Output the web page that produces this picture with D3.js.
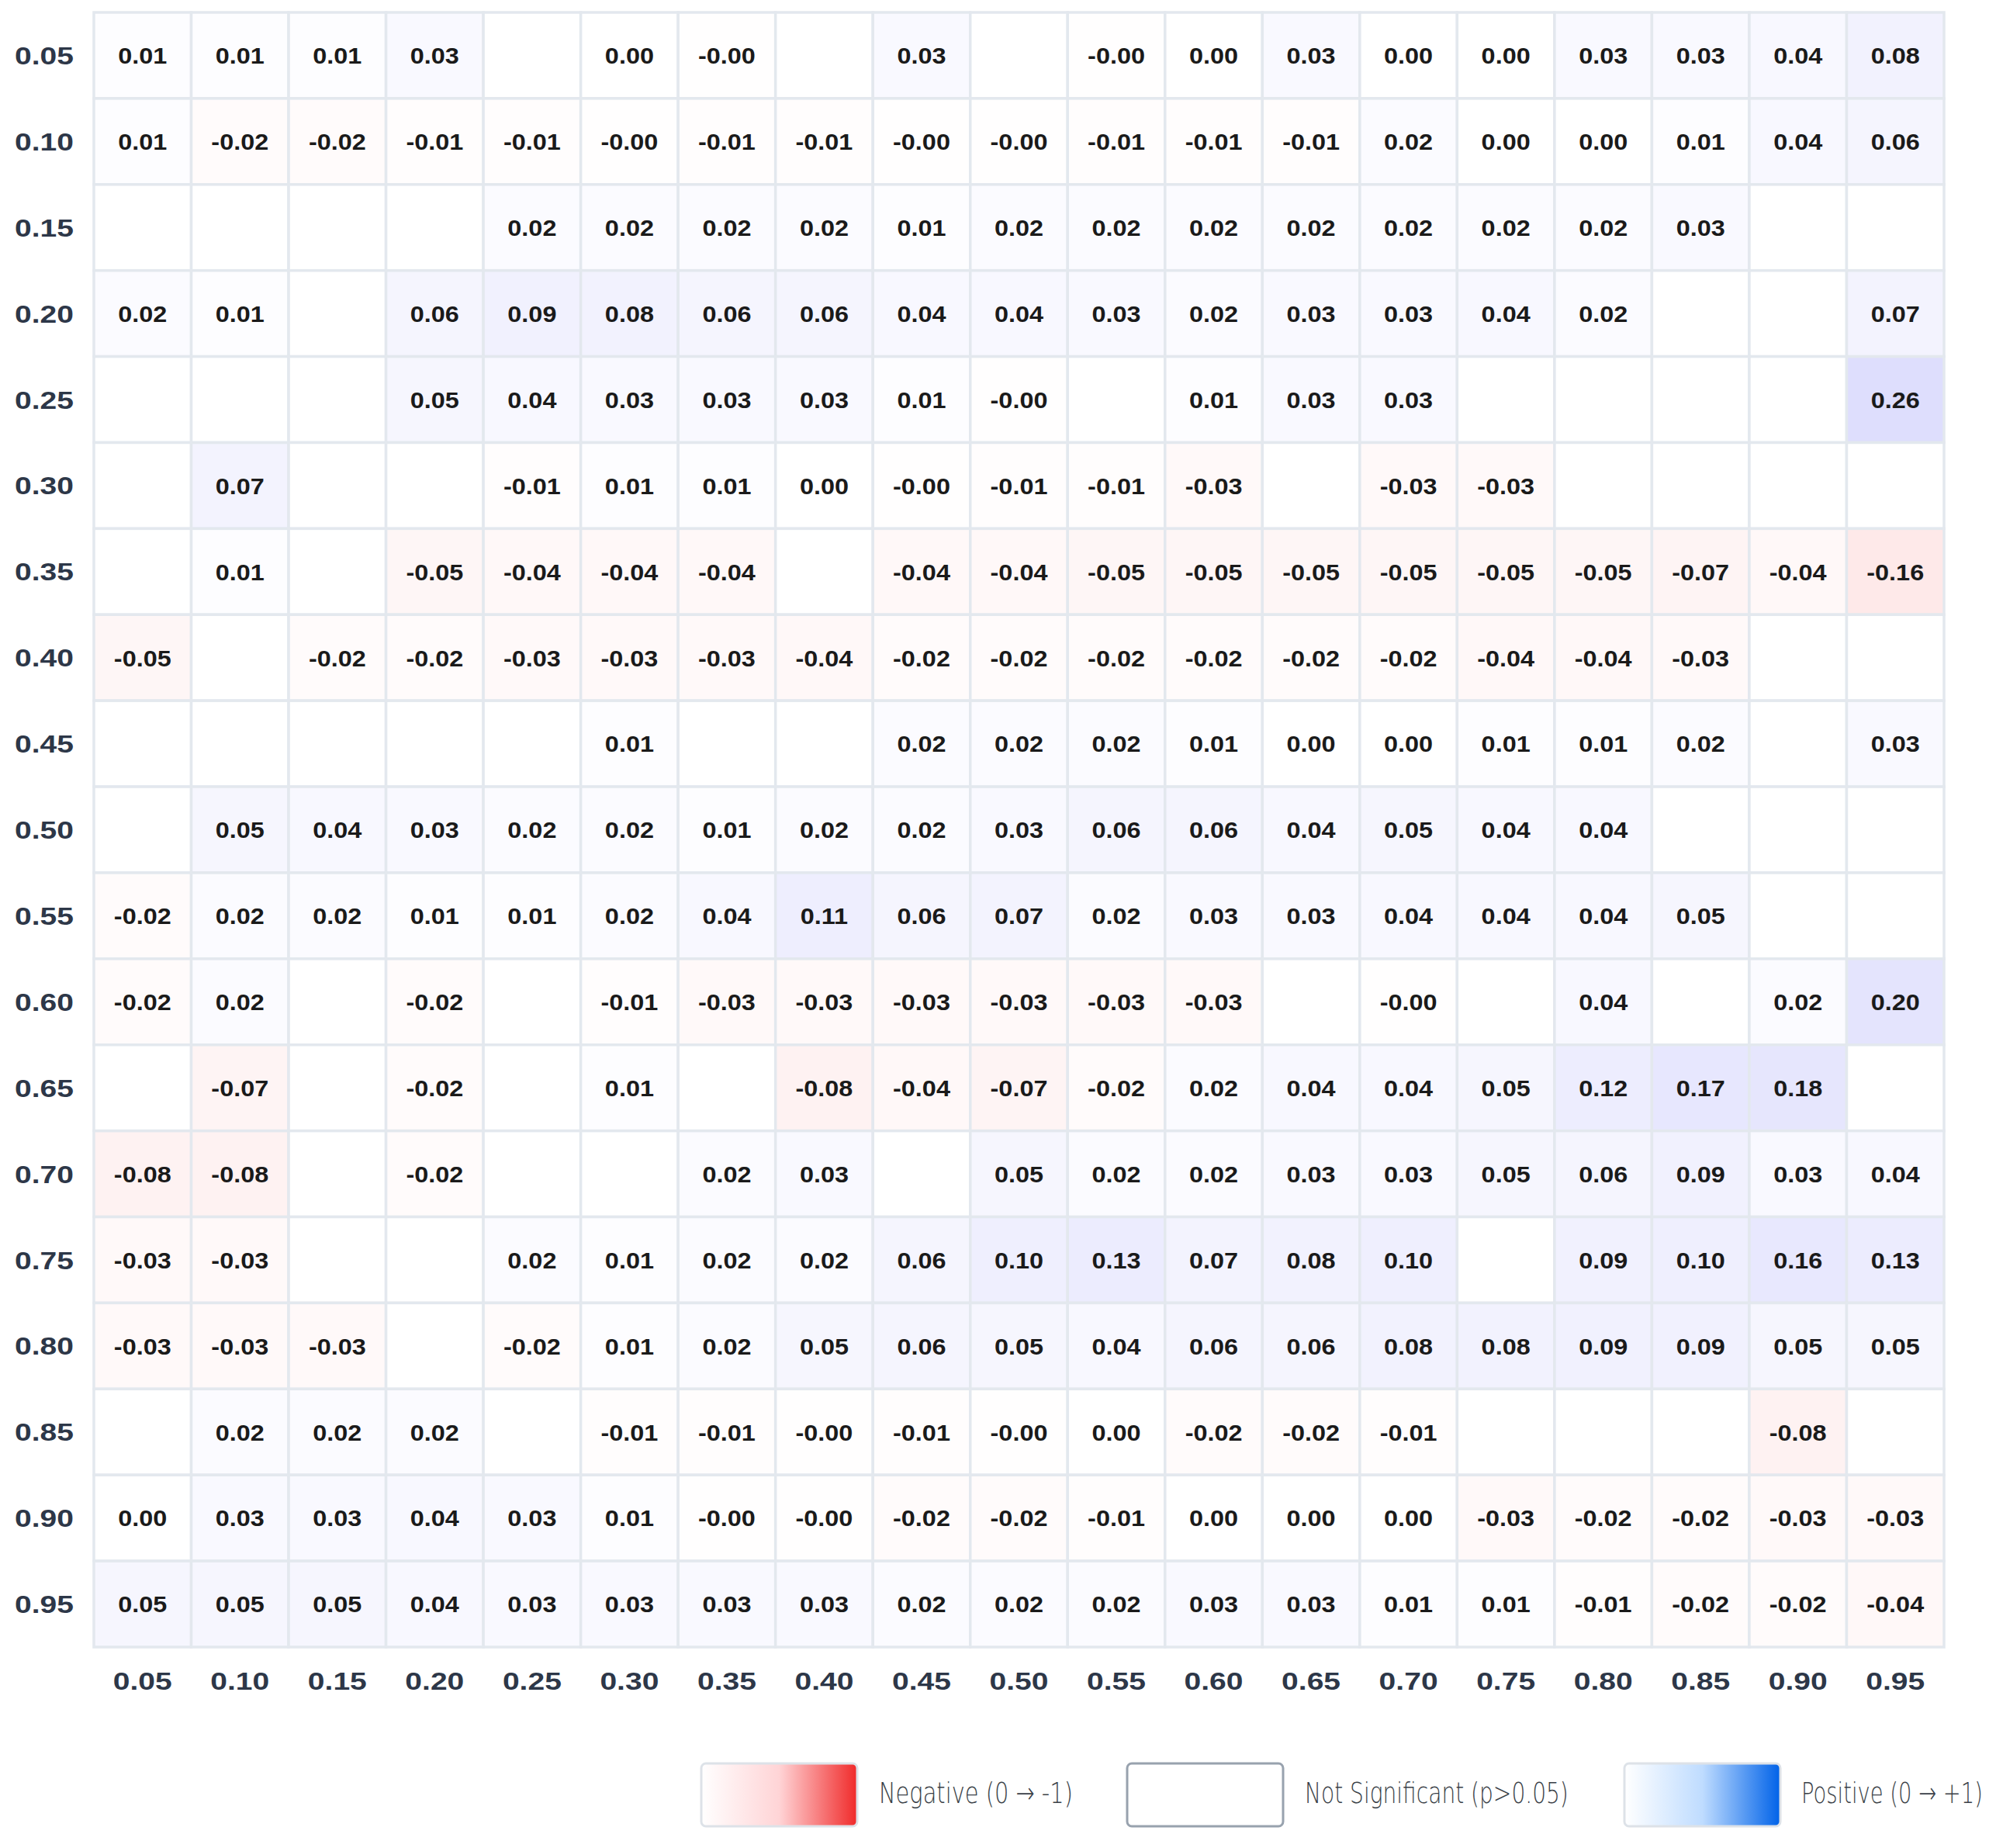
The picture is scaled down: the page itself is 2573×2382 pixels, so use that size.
<!DOCTYPE html>
<html>
<head>
<meta charset="utf-8">
<script src="https://cdn.jsdelivr.net/npm/d3@7"></script>
<style>
  body { margin: 0; background: #ffffff; }
  svg { display: block; }
</style>
</head>
<body>
<div id="chart"></div>
<script>
// threshold levels on both axes
const xLabels = ["0.05","0.10","0.15","0.20","0.25","0.30","0.35","0.40","0.45","0.50","0.55","0.60","0.65","0.70","0.75","0.80","0.85","0.90","0.95"];
const yLabels = ["0.05","0.10","0.15","0.20","0.25","0.30","0.35","0.40","0.45","0.50","0.55","0.60","0.65","0.70","0.75","0.80","0.85","0.90","0.95"];

// correlation per row, null = not significant (blank cell)
// -0.004 stands for the "-0.00" cells
const r05 = [0.01, 0.01, 0.01, 0.03, null, 0.00, -0.004, null, 0.03, null, -0.004, 0.00, 0.03, 0.00, 0.00, 0.03, 0.03, 0.04, 0.08];
const r10 = [0.01, -0.02, -0.02, -0.01, -0.01, -0.004, -0.01, -0.01, -0.004, -0.004, -0.01, -0.01, -0.01, 0.02, 0.00, 0.00, 0.01, 0.04, 0.06];
const r15 = [null, null, null, null, 0.02, 0.02, 0.02, 0.02, 0.01, 0.02, 0.02, 0.02, 0.02, 0.02, 0.02, 0.02, 0.03, null, null];
const r20 = [0.02, 0.01, null, 0.06, 0.09, 0.08, 0.06, 0.06, 0.04, 0.04, 0.03, 0.02, 0.03, 0.03, 0.04, 0.02, null, null, 0.07];
const r25 = [null, null, null, 0.05, 0.04, 0.03, 0.03, 0.03, 0.01, -0.004, null, 0.01, 0.03, 0.03, null, null, null, null, 0.26];
const r30 = [null, 0.07, null, null, -0.01, 0.01, 0.01, 0.00, -0.004, -0.01, -0.01, -0.03, null, -0.03, -0.03, null, null, null, null];
const r35 = [null, 0.01, null, -0.05, -0.04, -0.04, -0.04, null, -0.04, -0.04, -0.05, -0.05, -0.05, -0.05, -0.05, -0.05, -0.07, -0.04, -0.16];
const r40 = [-0.05, null, -0.02, -0.02, -0.03, -0.03, -0.03, -0.04, -0.02, -0.02, -0.02, -0.02, -0.02, -0.02, -0.04, -0.04, -0.03, null, null];
const r45 = [null, null, null, null, null, 0.01, null, null, 0.02, 0.02, 0.02, 0.01, 0.00, 0.00, 0.01, 0.01, 0.02, null, 0.03];
const r50 = [null, 0.05, 0.04, 0.03, 0.02, 0.02, 0.01, 0.02, 0.02, 0.03, 0.06, 0.06, 0.04, 0.05, 0.04, 0.04, null, null, null];
const r55 = [-0.02, 0.02, 0.02, 0.01, 0.01, 0.02, 0.04, 0.11, 0.06, 0.07, 0.02, 0.03, 0.03, 0.04, 0.04, 0.04, 0.05, null, null];
const r60 = [-0.02, 0.02, null, -0.02, null, -0.01, -0.03, -0.03, -0.03, -0.03, -0.03, -0.03, null, -0.004, null, 0.04, null, 0.02, 0.20];
const r65 = [null, -0.07, null, -0.02, null, 0.01, null, -0.08, -0.04, -0.07, -0.02, 0.02, 0.04, 0.04, 0.05, 0.12, 0.17, 0.18, null];
const r70 = [-0.08, -0.08, null, -0.02, null, null, 0.02, 0.03, null, 0.05, 0.02, 0.02, 0.03, 0.03, 0.05, 0.06, 0.09, 0.03, 0.04];
const r75 = [-0.03, -0.03, null, null, 0.02, 0.01, 0.02, 0.02, 0.06, 0.10, 0.13, 0.07, 0.08, 0.10, null, 0.09, 0.10, 0.16, 0.13];
const r80 = [-0.03, -0.03, -0.03, null, -0.02, 0.01, 0.02, 0.05, 0.06, 0.05, 0.04, 0.06, 0.06, 0.08, 0.08, 0.09, 0.09, 0.05, 0.05];
const r85 = [null, 0.02, 0.02, 0.02, null, -0.01, -0.01, -0.004, -0.01, -0.004, 0.00, -0.02, -0.02, -0.01, null, null, null, -0.08, null];
const r90 = [0.00, 0.03, 0.03, 0.04, 0.03, 0.01, -0.004, -0.004, -0.02, -0.02, -0.01, 0.00, 0.00, 0.00, -0.03, -0.02, -0.02, -0.03, -0.03];
const r95 = [0.05, 0.05, 0.05, 0.04, 0.03, 0.03, 0.03, 0.03, 0.02, 0.02, 0.02, 0.03, 0.03, 0.01, 0.01, -0.01, -0.02, -0.02, -0.04];

const coefRows = [r05, r10, r15, r20, r25, r30, r35, r40, r45, r50, r55, r60, r65, r70, r75, r80, r85, r90, r95];

const legendLabels = ["Negative (0 \u2192 -1)", "Not Significant (p>0.05)", "Positive (0 \u2192 +1)"];

// flatten into cells
let cells = [];
coefRows.forEach(function (row, i) {
    row.forEach(function (v, j) {
        cells.push({ row: yLabels[i], col: xLabels[j], value: v });
    });
});

const W = 2573, H = 2382;
const grid = { left: 121, right: 2506, top: 16, bottom: 2123 };

const svg = d3.select("#chart")
    .append("svg")
    .attr("width", W)
    .attr("height", H);

const x = d3.scaleBand().domain(xLabels).range([grid.left, grid.right]).padding(0);
const y = d3.scaleBand().domain(yLabels).range([grid.top, grid.bottom]).padding(0);

// tint strength grows with |r|, faint for the small ones
const tint = d3.scalePow().exponent(0.8).domain([0, 1]).range([0, 0.4]).clamp(true);

function cellColor(v) {
    if (v === null) return "#ffffff";
    const a = tint(Math.abs(v));
    if (v > 0) return d3.interpolateRgb("#ffffff", "#0a0af0")(a);
    if (v < 0) return d3.interpolateRgb("#ffffff", "#f01010")(a);
    return "#ffffff";
}

//Cells
svg.append("g")
    .selectAll("rect")
    .data(cells)
    .join("rect")
    .attr("x", d => x(d.col))
    .attr("y", d => y(d.row))
    .attr("width", x.bandwidth())
    .attr("height", y.bandwidth())
    .attr("fill", d => cellColor(d.value))
    .attr("stroke", "#e3e8ee")
    .attr("stroke-width", 3.5);

//Cell values, stretched a bit wider like the reference
svg.append("g")
    .selectAll("text")
    .data(cells.filter(d => d.value !== null))
    .join("text")
    .attr("transform", d => "translate(" + (x(d.col) + x.bandwidth() / 2) + "," + (y(d.row) + y.bandwidth() / 2) + ") scale(1.08,1)")
    .attr("text-anchor", "middle")
    .attr("dy", "0.36em")
    .style("font-family", "'Liberation Sans', Arial, sans-serif")
    .style("font-weight", "bold")
    .style("font-size", "30px")
    .style("fill", "#1a1a1a")
    .text(d => d.value.toFixed(2));

//Axes
const labelStretch = 1.22;

const yAxis = svg.append("g")
    .attr("transform", "translate(" + grid.left + ",0)")
    .call(d3.axisLeft(y).tickSize(0).tickPadding(0));
yAxis.select(".domain").remove();
yAxis.selectAll("text")
    .attr("x", -26 / labelStretch)
    .attr("dy", "0.36em")
    .attr("transform", "scale(" + labelStretch + ",1)");

const xAxis = svg.append("g")
    .attr("transform", "translate(0," + grid.bottom + ")")
    .call(d3.axisBottom(x).tickSize(0).tickPadding(0));
xAxis.select(".domain").remove();
xAxis.selectAll("text")
    .attr("y", 43)
    .attr("dy", "0.36em")
    .attr("transform", "scale(" + labelStretch + ",1)");

svg.selectAll(".tick text")
    .style("font-family", "'Liberation Sans', Arial, sans-serif")
    .style("font-weight", "bold")
    .style("font-size", "32px")
    .style("fill", "#2d3748");

//Legend
const defs = svg.append("defs");
const negGrad = defs.append("linearGradient").attr("id", "negGrad");
negGrad.append("stop").attr("offset", "0%").attr("stop-color", "#ffffff");
negGrad.append("stop").attr("offset", "50%").attr("stop-color", "#ffd4d6");
negGrad.append("stop").attr("offset", "100%").attr("stop-color", "#f02a2a");
const posGrad = defs.append("linearGradient").attr("id", "posGrad");
posGrad.append("stop").attr("offset", "0%").attr("stop-color", "#ffffff");
posGrad.append("stop").attr("offset", "50%").attr("stop-color", "#bfdcff");
posGrad.append("stop").attr("offset", "100%").attr("stop-color", "#0062e8");

const legendItems = [
    { label: legendLabels[0], fill: "url(#negGrad)", stroke: "#dde2e8", boxX: 904, textX: 1133, textW: 250 },
    { label: legendLabels[1], fill: "#ffffff", stroke: "#98a2ae", boxX: 1453, textX: 1682, textW: 340 },
    { label: legendLabels[2], fill: "url(#posGrad)", stroke: "#dde2e8", boxX: 2094, textX: 2322, textW: 234 }
];

const legend = svg.append("g");
legend.selectAll("rect")
    .data(legendItems)
    .join("rect")
    .attr("x", d => d.boxX)
    .attr("y", 2273)
    .attr("width", 201)
    .attr("height", 81)
    .attr("rx", 6)
    .attr("fill", d => d.fill)
    .attr("stroke", d => d.stroke)
    .attr("stroke-width", 3);

// thin DejaVu squeezed horizontally to the narrow look of the reference
legend.selectAll("text")
    .data(legendItems)
    .join("text")
    .attr("dy", "0.36em")
    .style("font-family", "'DejaVu Sans', sans-serif")
    .style("font-weight", "200")
    .style("font-size", "38px")
    .style("fill", "#3a3f47")
    .text(d => d.label)
    .attr("transform", function (d) {
        const k = d.textW / this.getComputedTextLength();
        return "translate(" + d.textX + ",2310) scale(" + k + ",1)";
    });
</script>
</body>
</html>
